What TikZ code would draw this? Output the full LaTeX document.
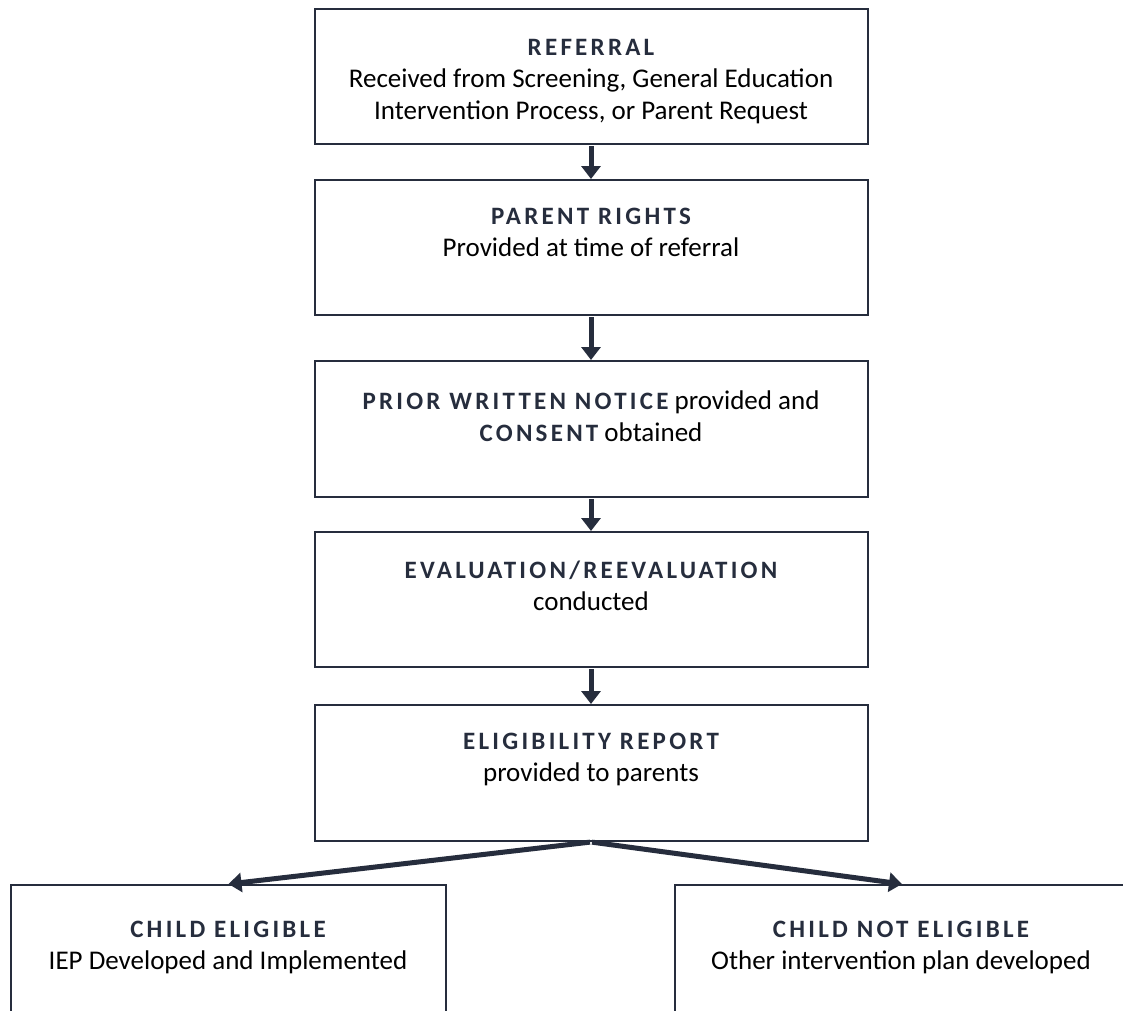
\documentclass[tikz,border=0pt]{standalone}
\usepackage{fontspec}
\setmainfont{Carlito}
\newfontfamily\headfont[LetterSpace=13]{Carlito}
\usetikzlibrary{arrows.meta}
\definecolor{navy}{HTML}{262D3D}
\newcommand{\hd}[1]{{\headfont\bfseries\color{navy}\fontsize{25}{32}\selectfont #1}}
\tikzset{
  x=1pt, y=-1pt,
  box/.style={draw=navy, line width=2pt, minimum width=553pt, minimum height=135pt, inner sep=0pt, anchor=north},
  sidebox/.style={draw=navy, line width=2pt, minimum height=160pt, inner sep=0pt, anchor=north west},
  txt/.style={align=center, anchor=north, inner sep=0pt, font=\fontsize{27}{32}\selectfont},
  flow/.style={draw=navy, line width=5pt, -{Triangle[width=19pt,length=13pt]}, shorten <=1pt},
}
\begin{document}
\begin{tikzpicture}
\clip (0,0) rectangle (1123,1010);
\fill[white] (0,0) rectangle (1123,1010);
\node[box] (b1) at (591,8) {};
\node[box] (b2) at (591,179) {};
\node[box, minimum height=136pt] (b3) at (591,360) {};
\node[box] (b4) at (591,531) {};
\node[box, minimum height=136pt] (b5) at (591,704) {};
\node[sidebox, minimum width=435pt] (cl) at (10,884) {};
\node[sidebox, minimum width=454pt] (cr) at (674,884) {};

\node[txt] (t1) at (591,39) {\hd{REFERRAL}\\Received from Screening, General Education\\Intervention Process, or Parent Request};
\node[txt] (t2) at (591,208) {\hd{PARENT RIGHTS}\\Provided at time of referral};
\node[txt] (t3) at (591,391) {\hd{PRIOR WRITTEN NOTICE} provided and\\\hd{CONSENT} obtained};
\node[txt] (t4) at (591,561) {\hd{EVALUATION/REEVALUATION}\\conducted};
\node[txt] (t5) at (591,733) {\hd{ELIGIBILITY REPORT}\\provided to parents};
\node[txt] (t6) at (228,921) {\hd{CHILD ELIGIBLE}\\IEP Developed and Implemented};
\node[txt] (t7) at (901,921) {\hd{CHILD NOT ELIGIBLE}\\Other intervention plan developed};

\draw[flow] (b1.south) -- (b2.north);
\draw[flow] (b2.south) -- (b3.north);
\draw[flow] (b3.south) -- (b4.north);
\draw[flow] (b4.south) -- (b5.north);
\draw[flow] (b5.south) -- (cl.north);
\draw[flow] (b5.south) -- (cr.north);
\end{tikzpicture}
\end{document}
